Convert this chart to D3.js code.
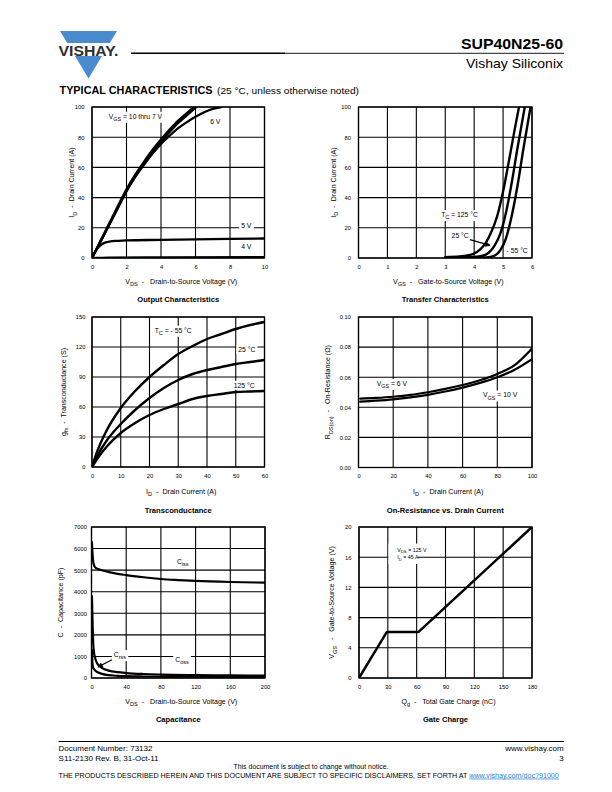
<!DOCTYPE html>
<html><head><meta charset="utf-8">
<script src="https://cdn.jsdelivr.net/npm/d3@7"></script>
<style>
html,body{margin:0;padding:0;background:#fff;}
svg{display:block;}
text{font-family:'Liberation Sans',Arial,Helvetica,sans-serif;white-space:pre;}
</style></head><body>
<svg id="page" width="612" height="792"></svg>
<script>
// ---------------- DATA ----------------
// Output characteristics: [VDS (V), ID (A)]
const outVgs10 = [[0,0],[0.5,11.5],[1,23],[1.5,34.5],[2,45.5],[2.5,55],[3,63.5],[3.5,71.5],[4,78.5],[4.5,85],[5,91],[5.5,96],[5.9,100]];
const outVgs7  = [[0,0],[0.5,11],[1,22],[1.5,33.5],[2,44.5],[2.5,54],[3,62.5],[3.5,70],[4,77],[4.5,83.5],[5,89.5],[5.5,94.5],[6.05,100]];
const outVgs6  = [[0,0],[0.5,11],[1,22],[1.5,33],[2,44],[2.5,53.5],[3,61.5],[3.5,69],[4,75.5],[4.5,81],[5,86],[5.5,90],[6,93.5],[6.5,96.5],[7,98.8],[7.5,100]];
const outVgs5  = [[0,0],[0.2,4.5],[0.4,7.5],[0.6,9.3],[0.8,10.3],[1,10.9],[1.5,11.4],[2,11.7],[4,12],[6,12.3],[8,12.6],[10,12.9]];
const outVgs4  = [[0,0],[1,0.3],[4,0.4],[10,0.5]];
const outXTicks = [0,2,4,6,8,10];
const outYTicks = [0,20,40,60,80,100];

// Transfer characteristics: [VGS (V), ID (A)]
const trTc125 = [[3.0,0.6],[3.5,1.0],[3.8,1.8],[4.0,3],[4.2,5.5],[4.4,10],[4.6,17.5],[4.8,28],[5.0,44],[5.2,64],[5.4,85],[5.55,100]];
const trTc25  = [[3.5,0.5],[4.0,0.7],[4.3,1.5],[4.5,3.5],[4.7,8],[4.9,16],[5.1,30],[5.3,50],[5.5,73],[5.75,100]];
const trTcm55 = [[4.0,0.3],[4.5,0.6],[4.7,1.5],[4.9,5],[5.1,13],[5.3,28],[5.5,48],[5.7,72],[5.95,100]];
const trXTicks = [0,1,2,3,4,5,6];
const trYTicks = [0,20,40,60,80,100];

// Transconductance: [ID (A), gfs (S)]
const gfsTcm55 = [[0,0],[2,17],[5,36],[10,59],[15,76],[20,90],[25,102],[30,113],[35,121],[40,128],[45,133],[50,138],[55,142],[60,145]];
const gfsTc25  = [[0,0],[2,12],[5,26],[10,43],[15,57],[20,69],[25,79],[30,87],[35,93],[40,97],[45,100],[50,103],[55,105],[60,107]];
const gfsTc125 = [[0,0],[2,9],[5,20],[10,34],[15,44],[20,52],[25,58],[30,63],[35,68],[40,71],[45,73],[50,75],[55,75.5],[60,76]];
const gfsXTicks = [0,10,20,30,40,50,60];
const gfsYTicks = [0,30,60,90,120,150];

// On-resistance: [ID (A), RDS(on) (ohm)]
const rdsVgs6  = [[1,0.0457],[10,0.0462],[20,0.0470],[30,0.0482],[40,0.0500],[50,0.0522],[60,0.0548],[70,0.0580],[80,0.0622],[90,0.0680],[100,0.0790]];
const rdsVgs10 = [[1,0.0438],[10,0.0444],[20,0.0453],[30,0.0466],[40,0.0483],[50,0.0505],[60,0.0531],[70,0.0562],[80,0.0600],[90,0.0650],[100,0.0720]];
const rdsXTicks = [0,20,40,60,80,100];
const rdsYTicks = [0,0.02,0.04,0.06,0.08,0.10];

// Capacitance: [VDS (V), C (pF)]
const capCiss = [[0.5,6300],[1,5900],[1.5,5600],[2,5400],[3,5220],[4,5140],[6,5080],[10,5020],[20,4910],[40,4770],[60,4670],[80,4590],[100,4540],[120,4500],[160,4450],[200,4420]];
const capCoss = [[0.5,3800],[1,3000],[1.5,2200],[2,1600],[3,1150],[4,950],[6,720],[8,600],[12,470],[20,340],[30,270],[40,230],[60,185],[80,160],[120,135],[160,120],[200,110]];
const capCrss = [[0.5,1300],[1,750],[1.5,550],[2,470],[3,400],[5,320],[8,250],[12,190],[20,130],[30,100],[40,85],[60,70],[100,58],[200,48]];
const capXTicks = [0,40,80,120,160,200];
const capYTicks = [0,1000,2000,3000,4000,5000,6000,7000];

// Gate charge: [Qg (nC), VGS (V)]
const gateVgs = [[0,0],[29,6.1],[62,6.1],[180,20]];
const gateXTicks = [0,30,60,90,120,150,180];
const gateYTicks = [0,4,8,12,16,20];

// ---------------- DRAWING ----------------
const svg = d3.select('#page');
const defs = svg.append('defs');
defs.append('marker').attr('id','arrow').attr('viewBox','0 0 10 10').attr('refX',9).attr('refY',5)
  .attr('markerWidth',5).attr('markerHeight',4).attr('markerUnits','strokeWidth').attr('orient','auto')
  .append('path').attr('d','M0,0 L10,5 L0,10 z').attr('fill','#000');

const TICK_FS = 5.8, TITLE_FS = 7.1, HEAD_FS = 7.6, LABEL_FS = 6.8;

function rich(t, parts, fs) {
  let down = 0;
  parts.forEach(p => {
    const ts = t.append('tspan');
    if (typeof p === 'string') {
      ts.text(p);
      if (down) { ts.attr('dy', -down); down = 0; }
    } else {
      const d = fs * 0.3;
      ts.text(p.sub).attr('font-size', fs * 0.8).attr('dy', d - down);
      down = d;
    }
  });
}

function drawChart(cfg) {
  const [X0, X1, Y0, Y1] = cfg.box;
  const xs = d3.scaleLinear().domain(cfg.xDomain).range([X0, X1]);
  const ys = d3.scaleLinear().domain(cfg.yDomain).range([Y1, Y0]);
  const g = svg.append('g');
  const cid = 'clip-' + cfg.id;
  defs.append('clipPath').attr('id', cid).append('rect')
    .attr('x', X0).attr('y', Y0).attr('width', X1 - X0).attr('height', Y1 - Y0);

  const gridL = g.append('g'), bgL = g.append('g'), labL = g.append('g');

  // grid
  gridL.append('g').selectAll('line').data(cfg.xTicks).join('line')
    .attr('x1', d => xs(d)).attr('x2', d => xs(d)).attr('y1', Y0).attr('y2', Y1)
    .attr('stroke', '#000').attr('stroke-width', 1.1);
  gridL.append('g').selectAll('line').data(cfg.yTicks).join('line')
    .attr('y1', d => ys(d)).attr('y2', d => ys(d)).attr('x1', X0).attr('x2', X1)
    .attr('stroke', '#000').attr('stroke-width', 1.1);

  // axes (tick labels)
  const ax = g.append('g').attr('transform', `translate(0,${Y1})`)
    .call(d3.axisBottom(xs).tickValues(cfg.xTicks).tickFormat(cfg.xFmt || d3.format('d')).tickSize(0).tickPadding(6.8));
  ax.select('.domain').remove();
  ax.attr('font-family', null).attr('font-size', TICK_FS);
  const ay = g.append('g').attr('transform', `translate(${X0},0)`)
    .call(d3.axisLeft(ys).tickValues(cfg.yTicks).tickFormat(cfg.yFmt || d3.format('d')).tickSize(0).tickPadding(cfg.yPad || 7.5));
  ay.select('.domain').remove();
  ay.attr('font-family', null).attr('font-size', TICK_FS);

  // white background boxes
  (cfg.boxes || []).forEach(B => {
    bgL.append('rect').attr('x', xs(B.x0)).attr('y', ys(B.y1))
      .attr('width', xs(B.x1) - xs(B.x0)).attr('height', ys(B.y0) - ys(B.y1)).attr('fill', '#fff');
  });
  // labels
  (cfg.labels || []).forEach(L => {
    const fs = L.fs || LABEL_FS;
    const t = labL.append('text').attr('x', xs(L.x)).attr('y', ys(L.y) + fs * 0.35)
      .attr('font-size', fs).attr('fill', '#000');
    rich(t, L.parts, fs);
    if (L.bg) {
      const b = t.node().getBBox();
      bgL.append('rect').attr('x', b.x - 2).attr('y', b.y - 1)
        .attr('width', b.width + 4).attr('height', b.height + 2).attr('fill', '#fff');
    }
  });

  // series
  const line = d3.line().x(d => xs(d[0])).y(d => ys(d[1])).curve(cfg.linear ? d3.curveLinear : d3.curveMonotoneX);
  const sg = g.append('g').attr('clip-path', `url(#${cid})`);
  cfg.series.forEach(s => {
    sg.append('path').attr('d', line(s)).attr('fill', 'none').attr('stroke', '#000')
      .attr('stroke-width', cfg.sw || 2.4).attr('stroke-linejoin', 'round').attr('stroke-linecap', 'round');
  });
  (cfg.arrows || []).forEach(A => {
    g.append('line').attr('x1', xs(A[0])).attr('y1', ys(A[1])).attr('x2', xs(A[2])).attr('y2', ys(A[3]))
      .attr('stroke', '#000').attr('stroke-width', 1.3).attr('marker-end', 'url(#arrow)');
  });

  // border
  g.append('rect').attr('x', X0).attr('y', Y0).attr('width', X1 - X0).attr('height', Y1 - Y0)
    .attr('fill', 'none').attr('stroke', '#000').attr('stroke-width', 1.3);

  // titles
  const xt = g.append('text').attr('x', (X0 + X1) / 2 + 3).attr('y', cfg.xTitleY)
    .attr('text-anchor', 'middle').attr('font-size', TITLE_FS);
  rich(xt, cfg.xTitle, TITLE_FS);
  const yt = g.append('text').attr('transform', `translate(${cfg.yTitleX + TITLE_FS * 0.35},${(Y0 + Y1) / 2}) rotate(-90)`)
    .attr('text-anchor', 'middle').attr('font-size', TITLE_FS);
  rich(yt, cfg.yTitle, TITLE_FS);
  g.append('text').attr('x', (X0 + X1) / 2).attr('y', cfg.headY).attr('text-anchor', 'middle')
    .attr('font-size', HEAD_FS).attr('font-weight', 'bold').text(cfg.head);
}

const IDtitle = ['I', {sub: 'D'}, '  -  Drain Current (A)'];

drawChart({
  id: 'out', box: [92, 264.5, 107, 258], xDomain: [0, 10], yDomain: [0, 100],
  xTicks: outXTicks, yTicks: outYTicks,
  series: [outVgs4, outVgs5, outVgs6, outVgs7, outVgs10], sw: 2.3,
  labels: [
    {x: 0.97, y: 93.8, parts: ['V', {sub: 'GS'}, ' = 10 thru 7 V'], bg: true},
    {x: 6.85, y: 90.5, parts: ['6 V']},
    {x: 8.65, y: 21.6, parts: ['5 V'], bg: true},
    {x: 8.65, y: 7.5, parts: ['4 V']}
  ],
  xTitle: ['V', {sub: 'DS'}, '  -   Drain-to-Source Voltage (V)'], xTitleY: 283.5,
  yTitle: IDtitle, yTitleX: 72, head: 'Output Characteristics', headY: 301.8
});

drawChart({
  id: 'tr', box: [358.5, 532, 107, 258], xDomain: [0, 6], yDomain: [0, 100],
  xTicks: trXTicks, yTicks: trYTicks,
  series: [trTc125, trTc25, trTcm55],
  labels: [
    {x: 2.86, y: 28.7, parts: ['T', {sub: 'C'}, ' = 125 °C'], bg: true},
    {x: 3.22, y: 14.6, parts: ['25 °C'], bg: true},
    {x: 5.12, y: 5.2, parts: ['- 55 °C'], bg: true}
  ],
  arrows: [[3.85, 12.2, 4.55, 8.3]],
  xTitle: ['V', {sub: 'GS'}, '  -   Gate-to-Source Voltage (V)'], xTitleY: 283.5,
  yTitle: IDtitle, yTitleX: 333.5, head: 'Transfer Characteristics', headY: 301.8
});

drawChart({
  id: 'gfs', box: [92, 264.5, 317, 467], xDomain: [0, 60], yDomain: [0, 150],
  xTicks: gfsXTicks, yTicks: gfsYTicks, yPad: 6.5,
  series: [gfsTcm55, gfsTc25, gfsTc125],
  labels: [
    {x: 21.8, y: 136.7, parts: ['T', {sub: 'C'}, ' = - 55 °C'], bg: true},
    {x: 50.9, y: 117.3, parts: ['25 °C'], bg: true},
    {x: 49.3, y: 81.7, parts: ['125 °C'], bg: true}
  ],
  xTitle: IDtitle, xTitleY: 494.2,
  yTitle: ['g', {sub: 'fs'}, '  -  Transconductance (S)'], yTitleX: 63.5,
  head: 'Transconductance', headY: 512.5
});

drawChart({
  id: 'rds', box: [358.5, 532, 317, 467.5], xDomain: [0, 100], yDomain: [0, 0.10],
  xTicks: rdsXTicks, yTicks: rdsYTicks, yFmt: d3.format('.2f'),
  series: [rdsVgs6, rdsVgs10], sw: 2.2,
  labels: [
    {x: 10.5, y: 0.0558, parts: ['V', {sub: 'GS'}, ' = 6 V'], bg: true},
    {x: 71.8, y: 0.0481, parts: ['V', {sub: 'GS'}, ' = 10 V'], bg: true}
  ],
  xTitle: IDtitle, xTitleY: 494.2,
  yTitle: ['R', {sub: 'DS(on)'}, '  -   On-Resistance (Ω)'], yTitleX: 328,
  head: 'On-Resistance vs. Drain Current', headY: 512.5
});

drawChart({
  id: 'cap', box: [91.5, 265, 527, 678], xDomain: [0, 200], yDomain: [0, 7000],
  xTicks: capXTicks, yTicks: capYTicks, yPad: 4.5,
  series: [capCiss, capCoss, capCrss], sw: 2.2,
  labels: [
    {x: 98.5, y: 5385, parts: ['C', {sub: 'iss'}]},
    {x: 25.7, y: 1077, parts: ['C', {sub: 'rss'}], bg: true},
    {x: 96.6, y: 846, parts: ['C', {sub: 'oss'}], bg: true}
  ],
  arrows: [[23.5, 846, 7.5, 510]],
  xTitle: ['V', {sub: 'DS'}, '  -   Drain-to-Source Voltage (V)'], xTitleY: 704,
  yTitle: ['C  -  Capacitance (pF)'], yTitleX: 60.5,
  head: 'Capacitance', headY: 721.8
});

drawChart({
  id: 'gate', box: [359, 532, 527, 678], xDomain: [0, 180], yDomain: [0, 20],
  xTicks: gateXTicks, yTicks: gateYTicks, linear: true, sw: 2.5,
  series: [gateVgs],
  boxes: [{x0: 30.6, x1: 61.4, y0: 15.1, y1: 17.8}],
  labels: [
    {x: 39.8, y: 16.95, parts: ['V', {sub: 'DS'}, ' = 125 V'], fs: 5.3},
    {x: 39.8, y: 15.95, parts: ['I', {sub: 'D'}, ' = 45 A'], fs: 5.3}
  ],
  xTitle: ['Q', {sub: 'g'}, '  -   Total Gate Charge (nC)'], xTitleY: 704,
  yTitle: ['V', {sub: 'GS'}, '   -   Gate-to-Source Voltage (V)'], yTitleX: 332,
  head: 'Gate Charge', headY: 721.8
});

// ---------------- HEADER ----------------
const hdr = svg.append('g');
hdr.append('path').attr('d', 'M60,31 L117,31 L88.5,78.5 Z').attr('fill', '#4a8bd0');
hdr.append('rect').attr('x', 55).attr('y', 43).attr('width', 70).attr('height', 13).attr('fill', '#fff');
hdr.append('text').attr('x', 58.5).attr('y', 55.5).attr('font-size', 14).attr('font-weight', 'bold')
  .attr('fill', '#2e2e2e').attr('textLength', 60).attr('lengthAdjust', 'spacingAndGlyphs').text('VISHAY.');
hdr.append('text').attr('x', 563).attr('y', 49).attr('text-anchor', 'end').attr('font-size', 15)
  .attr('font-weight', 'bold').attr('textLength', 102).attr('lengthAdjust', 'spacingAndGlyphs').text('SUP40N25-60');
hdr.append('line').attr('x1', 131).attr('x2', 285).attr('y1', 53.3).attr('y2', 53.3).attr('stroke', '#000').attr('stroke-width', 1.4);
hdr.append('line').attr('x1', 285).attr('x2', 564).attr('y1', 53.3).attr('y2', 53.3).attr('stroke', '#000').attr('stroke-width', 0.9);
hdr.append('text').attr('x', 563).attr('y', 67.5).attr('text-anchor', 'end').attr('font-size', 12.8)
  .attr('textLength', 97).attr('lengthAdjust', 'spacingAndGlyphs').text('Vishay Siliconix');
hdr.append('text').attr('x', 59.5).attr('y', 93.5).attr('font-size', 10.2).attr('font-weight', 'bold')
  .attr('textLength', 153).attr('lengthAdjust', 'spacingAndGlyphs').text('TYPICAL CHARACTERISTICS');
hdr.append('text').attr('x', 217).attr('y', 93.5).attr('font-size', 9.4)
  .attr('textLength', 142).attr('lengthAdjust', 'spacingAndGlyphs').text('(25 °C, unless otherwise noted)');

// ---------------- FOOTER ----------------
const ft = svg.append('g').attr('font-size', 8);
ft.append('line').attr('x1', 58.5).attr('x2', 564).attr('y1', 741.5).attr('y2', 741.5).attr('stroke', '#000').attr('stroke-width', 1);
ft.append('text').attr('x', 58.6).attr('y', 751).text('Document Number: 73132');
ft.append('text').attr('x', 58.6).attr('y', 761.2).attr('textLength', 100).attr('lengthAdjust', 'spacingAndGlyphs').text('S11-2130 Rev. B, 31-Oct-11');
ft.append('text').attr('x', 563.7).attr('y', 751).attr('text-anchor', 'end').text('www.vishay.com');
ft.append('text').attr('x', 563.7).attr('y', 761.2).attr('text-anchor', 'end').text('3');
ft.append('text').attr('x', 311).attr('y', 768.6).attr('text-anchor', 'middle').attr('font-size', 6.95).text('This document is subject to change without notice.');
const disc = ft.append('text').attr('x', 58.6).attr('y', 777.6).attr('font-size', 7.15);
disc.append('tspan').text('THE PRODUCTS DESCRIBED HEREIN AND THIS DOCUMENT ARE SUBJECT TO SPECIFIC DISCLAIMERS, SET FORTH AT ');
disc.append('tspan').attr('fill', '#2a7fd0').attr('text-decoration', 'underline').text('www.vishay.com/doc?91000');
</script>
</body></html>
